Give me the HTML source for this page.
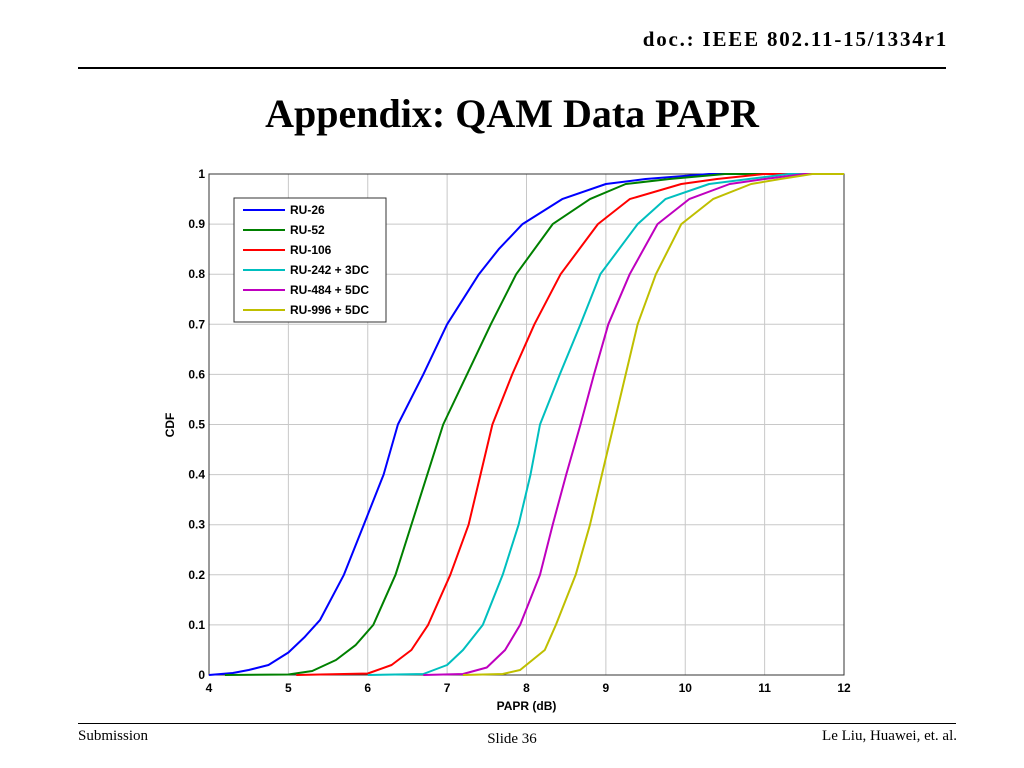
<!DOCTYPE html>
<html><head><meta charset="utf-8"><style>
body{margin:0;background:#fff;width:1024px;height:768px;overflow:hidden;position:relative;font-family:"Liberation Serif",serif}
.t{position:absolute;white-space:nowrap}
</style></head><body>
<div class="t" style="right:76px;top:27px;font-size:21px;font-weight:bold;letter-spacing:1.8px">doc.: IEEE 802.11-15/1334r1</div>
<div style="position:absolute;left:78px;top:67px;width:868px;height:2px;background:#000"></div>
<div class="t" style="left:0;width:1024px;text-align:center;top:90px;font-size:40px;font-weight:bold">Appendix: QAM Data PAPR</div>
<svg id="chart" width="1024" height="768" style="position:absolute;left:0;top:0" font-family="Liberation Sans, sans-serif"></svg>
<div style="position:absolute;left:78px;top:723px;width:878px;height:1px;background:#000"></div>
<div class="t" style="left:78px;top:728px;font-size:15px">Submission</div>
<div class="t" style="left:0;width:1024px;text-align:center;top:731px;font-size:15px">Slide 36</div>
<div class="t" style="right:67px;top:728px;font-size:15px">Le Liu, Huawei, et. al.</div>
<script>
const xTicks=[4,5,6,7,8,9,10,11,12];
const yTicks=[0,0.1,0.2,0.3,0.4,0.5,0.6,0.7,0.8,0.9,1];
const yTickLabels=["0","0.1","0.2","0.3","0.4","0.5","0.6","0.7","0.8","0.9","1"];
const seriesNames=["RU-26","RU-52","RU-106","RU-242 + 3DC","RU-484 + 5DC","RU-996 + 5DC"];
const seriesColors=["#0000ff","#008000","#ff0000","#00bfbf","#bf00bf","#bfbf00"];
const ru26X=[4,4.3,4.5,4.75,5,5.2,5.4,5.7,5.95,6.2,6.38,6.7,7.0,7.4,7.65,7.95,8.45,9.0,9.5,10.3,12];
const ru26Y=[0,0.004,0.01,0.02,0.045,0.075,0.11,0.2,0.3,0.4,0.5,0.6,0.7,0.8,0.85,0.9,0.95,0.98,0.99,1,1];
const ru52X=[4.2,5.0,5.3,5.6,5.85,6.07,6.35,6.55,6.75,6.95,7.25,7.55,7.87,8.33,8.8,9.25,9.8,10.5,12];
const ru52Y=[0,0.001,0.008,0.03,0.06,0.1,0.2,0.3,0.4,0.5,0.6,0.7,0.8,0.9,0.95,0.98,0.99,1,1];
const ru106X=[5.1,6.0,6.3,6.55,6.76,7.04,7.27,7.42,7.57,7.82,8.1,8.43,8.9,9.3,9.95,10.4,11,12];
const ru106Y=[0,0.003,0.02,0.05,0.1,0.2,0.3,0.4,0.5,0.6,0.7,0.8,0.9,0.95,0.98,0.99,1,1];
const ru242X=[6.0,6.7,7.0,7.2,7.45,7.7,7.9,8.05,8.17,8.42,8.68,8.93,9.4,9.75,10.3,10.8,11.3,12];
const ru242Y=[0,0.002,0.02,0.05,0.1,0.2,0.3,0.4,0.5,0.6,0.7,0.8,0.9,0.95,0.98,0.99,1,1];
const ru484X=[6.7,7.2,7.5,7.73,7.92,8.17,8.33,8.5,8.68,8.85,9.03,9.3,9.65,10.05,10.56,11.0,11.5,12];
const ru484Y=[0,0.002,0.015,0.05,0.1,0.2,0.3,0.4,0.5,0.6,0.7,0.8,0.9,0.95,0.98,0.99,1,1];
const ru996X=[7.2,7.7,7.92,8.23,8.37,8.62,8.8,8.95,9.1,9.25,9.4,9.63,9.95,10.35,10.83,11.2,11.6,12];
const ru996Y=[0,0.002,0.01,0.05,0.1,0.2,0.3,0.4,0.5,0.6,0.7,0.8,0.9,0.95,0.98,0.99,1,1];
const seriesX=[ru26X,ru52X,ru106X,ru242X,ru484X,ru996X];
const seriesY=[ru26Y,ru52Y,ru106Y,ru242Y,ru484Y,ru996Y];

const L=209,R=844,T=174,B=675,NS="http://www.w3.org/2000/svg";
const sx=v=>L+(v-4)/(12-4)*(R-L);
const sy=v=>B-v*(B-T);
const svg=document.getElementById('chart');
function mk(tag,attrs,parent){const e=document.createElementNS(NS,tag);for(const k in attrs)e.setAttribute(k,attrs[k]);(parent||svg).appendChild(e);return e;}
const grid=mk('g',{});


xTicks.forEach(v=>{const l=mk('line',{x1:sx(v),x2:sx(v),y1:T,y2:B,stroke:'#c8c8c8','stroke-width':1},grid);


const t=mk('text',{x:sx(v),y:B+17,'text-anchor':'middle','font-size':12,'font-weight':'bold'});t.textContent=v;

});
yTicks.forEach((v,i)=>{const l=mk('line',{x1:L,x2:R,y1:sy(v),y2:sy(v),stroke:'#c8c8c8','stroke-width':1},grid);


const t=mk('text',{x:L-4,y:sy(v)+4,'text-anchor':'end','font-size':12,'font-weight':'bold'});t.textContent=yTickLabels[i];

});
const box=mk('rect',{x:L,y:T,width:R-L,height:B-T,fill:'none',stroke:'#333','stroke-width':1});


seriesX.forEach((xs,i)=>{const pts=xs.map((x,j)=>sx(x).toFixed(1)+','+sy(seriesY[i][j]).toFixed(1)).join(' ');
const p=mk('polyline',{points:pts,fill:'none',stroke:seriesColors[i],'stroke-width':2,'stroke-linejoin':'round'});

});
const xl=mk('text',{x:(L+R)/2,y:710,'text-anchor':'middle','font-size':12,'font-weight':'bold'});xl.textContent='PAPR (dB)';


const yl=mk('text',{x:0,y:0,'text-anchor':'middle','font-size':12,'font-weight':'bold',transform:'translate(174,425) rotate(-90)'});yl.textContent='CDF';


const lg=mk('g',{});


mk('rect',{x:234,y:198,width:152,height:124,fill:'#fff',stroke:'#333','stroke-width':1},lg);
seriesNames.forEach((n,i)=>{const y=210+i*20;
const ln=mk('line',{x1:243,x2:285,y1:y,y2:y,stroke:seriesColors[i],'stroke-width':2},lg);


const t=mk('text',{x:290,y:y+4,'font-size':12,'font-weight':'bold'},lg);t.textContent=n;

});
</script>
</body></html>
